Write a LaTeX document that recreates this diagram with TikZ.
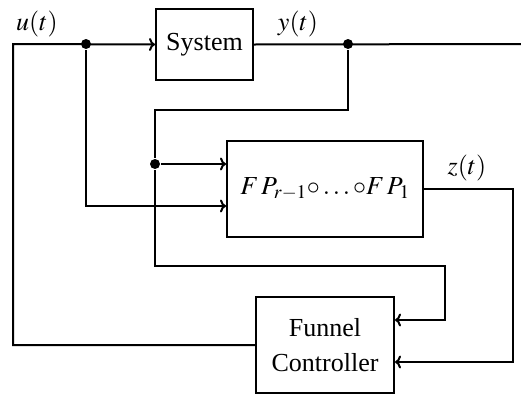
\documentclass[tikz,border=0pt]{standalone}
\usepackage{mathptmx}
\usepackage{fontspec}
\setmainfont{Liberation Serif}
\usetikzlibrary{arrows.meta}
\begin{document}
\begin{tikzpicture}[x=1pt,y=-1pt,line width=2pt,
  blk/.style={draw,inner sep=0pt,font=\fontsize{26}{35}\selectfont,align=center},
  lbl/.style={inner sep=0pt,font=\fontsize{26}{35}\selectfont},
  dotn/.style={circle,fill,inner sep=0pt,minimum size=10pt},
  arr/.style={-{To[length=6pt,width=13pt]}}]
\useasboundingbox (0,0) rectangle (521,394);
\node[blk,minimum width=97pt,minimum height=71pt] (sys) at (204.5,44.5) {System};
\node[blk,minimum width=196pt,minimum height=96pt] (fp) at (325,189) {$F\,P_{r-1}{\circ}\ldots{\circ}F\,P_1$};
\node[blk,minimum width=138pt,minimum height=96pt] (ctrl) at (325,345) {Funnel\\Controller};
\node[lbl] (ul) at (37,24) {$u(t)$};
\node[lbl] (yl) at (298,24) {$y(t)$};
\node[lbl] (zl) at (467,168) {$z(t)$};
\node[dotn] (du) at (86,44) {};
\node[dotn] (dy) at (348,44) {};
\node[dotn] (dz) at (155,164) {};
\coordinate (uc) at (13,44);
\coordinate (yend) at (521,44);
\coordinate (b1) at (155,110);
\coordinate (b2) at (155,266);
\coordinate (b3) at (445,320);
\coordinate (zc) at (513,362);
\coordinate (uin) at (86,206);
% u path
\draw[arr] (ctrl.west) -| (uc) -- (sys.west);
\draw[arr] (du) |- (uin -| fp.west);
% y path
\draw (sys.east) -- (yend);
\draw (dy) |- (b1) -- (dz);
\draw[arr] (dz) -- (dz -| fp.west);
\draw[arr] (dz) -- (b2) -| (b3) -- (b3 -| ctrl.east);
% z path
\draw[arr] (fp.east) -| (zc) -- (zc -| ctrl.east);
\end{tikzpicture}
\end{document}
